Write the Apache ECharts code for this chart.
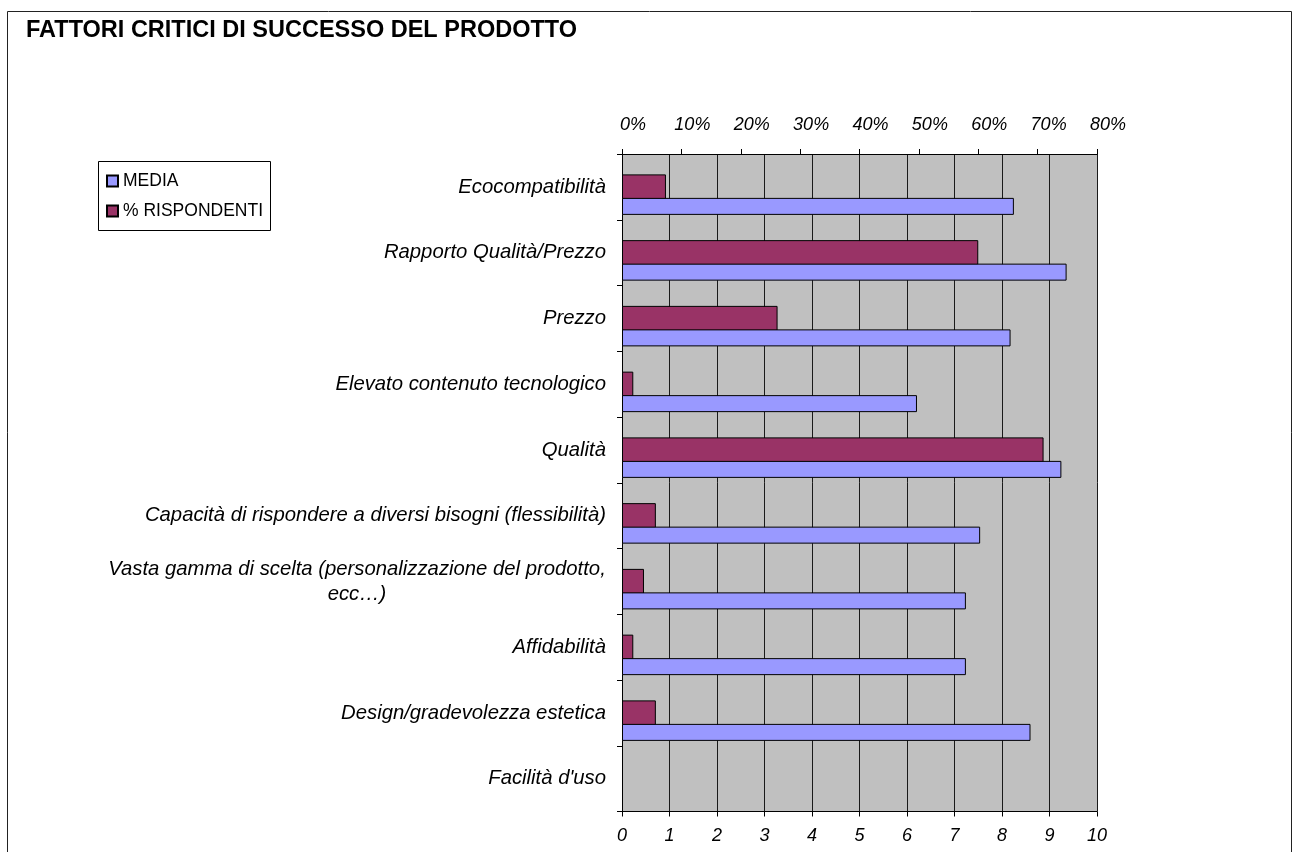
<!DOCTYPE html>
<html>
<head>
<meta charset="utf-8">
<title>Fattori critici di successo del prodotto</title>
<script src="https://cdn.jsdelivr.net/npm/echarts@6/dist/echarts.min.js"></script>
<style>
  html, body { margin: 0; padding: 0; background: #ffffff; }
  #chart { width: 1297px; height: 852px; }
</style>
</head>
<body>
<div id="chart"></div>
<script>
// Categories, top to bottom
const categories = [
  'Ecocompatibilità',
  'Rapporto Qualità/Prezzo',
  'Prezzo',
  'Elevato contenuto tecnologico',
  'Qualità',
  'Capacità di rispondere a diversi bisogni (flessibilità)',
  'Vasta gamma di scelta (personalizzazione del prodotto,\necc…)',
  'Affidabilità',
  'Design/gradevolezza estetica',
  "Facilità d'uso"
];

// Average score (bottom axis, 0–10)
const media = [8.25, 9.36, 8.18, 6.21, 9.25, 7.54, 7.24, 7.24, 8.6, null];

// Share of respondents in percent (top axis, 0–80%)
const rispondenti = [7.4, 60.0, 26.2, 1.9, 71.0, 5.7, 3.7, 1.9, 5.7, null];

// Tick settings for the two value axes
const mediaTicks = { min: 0, max: 10, interval: 1 };
const percentTicks = { min: 0, max: 80, interval: 10 };

const FONT = '"Liberation Sans", Arial, sans-serif';
const BLUE = '#9999FF';
const MAROON = '#993366';

const PLOT = { left: 622, top: 154, width: 475, height: 657.5 };
const LABEL_SIZE = 20.3;

const chart = echarts.init(document.getElementById('chart'), null, { renderer: 'canvas' });

const catLabel = {
  fontFamily: FONT,
  fontStyle: 'italic',
  fontSize: LABEL_SIZE,
  color: '#000',
  margin: 16,
  lineHeight: 25,
  formatter: function (v) {
    // wrapped labels are centred line by line
    if (v.indexOf('\n') >= 0) {
      return v.split('\n').map(function (l) { return '{c|' + l + '}'; }).join('\n');
    }
    return v;
  },
  rich: {
    c: {
      width: 498,
      align: 'center',
      fontFamily: FONT,
      fontStyle: 'italic',
      fontSize: LABEL_SIZE,
      lineHeight: 25,
      color: '#000'
    }
  }
};

const option = {
  backgroundColor: '#ffffff',
  animation: false,
  title: {
    text: 'FATTORI CRITICI DI SUCCESSO DEL PRODOTTO',
    left: 26,
    top: 19,
    padding: 0,
    textStyle: { fontFamily: FONT, fontWeight: 'bold', fontSize: 23.5, color: '#000' }
  },
  legend: {
    orient: 'vertical',
    left: 106,
    top: 172,
    padding: 0,
    itemGap: 12,
    itemWidth: 11,
    itemHeight: 11,
    icon: 'rect',
    data: ['MEDIA', '% RISPONDENTI'],
    textStyle: { fontFamily: FONT, fontSize: 17.5, color: '#000' }
  },
  graphic: [
    {
      type: 'rect',
      silent: true,
      z: -1,
      shape: { x: 7.5, y: 11.5, width: 1284, height: 880 },
      style: { fill: 'none', stroke: '#222', lineWidth: 1 }
    },
    {
      type: 'rect',
      silent: true,
      shape: { x: 98.5, y: 161.5, width: 172, height: 69 },
      style: { fill: '#fff', stroke: '#000', lineWidth: 1 },
      z: 0
    }
  ],
  grid: [
    {
      left: PLOT.left, top: PLOT.top, width: PLOT.width, height: PLOT.height,
      show: true, backgroundColor: '#C0C0C0', borderWidth: 0
    },
    {
      // same plot, bands shifted down so the MEDIA bars sit below the centred % bars
      left: PLOT.left, top: PLOT.top + 19.5, width: PLOT.width, height: PLOT.height,
      show: false
    }
  ],
  xAxis: [
    {
      gridIndex: 0,
      type: 'value',
      position: 'bottom',
      min: mediaTicks.min, max: mediaTicks.max, interval: mediaTicks.interval,
      axisLine: { show: true, lineStyle: { color: '#000', width: 1 } },
      axisTick: { show: true, inside: false, length: 5, lineStyle: { color: '#000' } },
      splitLine: { show: true, lineStyle: { color: '#1a1a1a', width: 1 } },
      axisLabel: { fontFamily: FONT, fontStyle: 'italic', fontSize: 18, color: '#000', margin: 15 }
    },
    {
      gridIndex: 0,
      type: 'value',
      position: 'top',
      min: percentTicks.min, max: percentTicks.max, interval: percentTicks.interval,
      axisLine: { show: true, lineStyle: { color: '#000', width: 1 } },
      axisTick: { show: true, inside: false, length: 5, lineStyle: { color: '#000' } },
      splitLine: { show: false },
      axisLabel: {
        fontFamily: FONT, fontStyle: 'italic', fontSize: 18, color: '#000', margin: 20,
        formatter: '{value}%', padding: [0, 0, 0, 22]
      }
    },
    {
      gridIndex: 1,
      type: 'value',
      show: false,
      min: mediaTicks.min, max: mediaTicks.max, interval: mediaTicks.interval,
      splitLine: { show: false }
    }
  ],
  yAxis: [
    {
      gridIndex: 0,
      type: 'category',
      inverse: true,
      data: categories,
      axisLine: { show: true, lineStyle: { color: '#000', width: 1 } },
      axisTick: { show: true, inside: false, length: 5, lineStyle: { color: '#000' } },
      splitLine: { show: false },
      axisLabel: catLabel
    },
    {
      gridIndex: 1,
      type: 'category',
      inverse: true,
      show: false,
      data: categories
    }
  ],
  series: [
    {
      name: '% RISPONDENTI',
      type: 'bar',
      xAxisIndex: 1,
      yAxisIndex: 0,
      barWidth: 25,
      data: rispondenti,
      itemStyle: { color: MAROON, borderColor: '#000', borderWidth: 1 },
      z: 2
    },
    {
      name: 'MEDIA',
      type: 'bar',
      xAxisIndex: 2,
      yAxisIndex: 1,
      barWidth: 17,
      data: media,
      itemStyle: { color: BLUE, borderColor: '#000', borderWidth: 1 },
      z: 3
    }
  ]
};

chart.setOption(option);
</script>
</body>
</html>
